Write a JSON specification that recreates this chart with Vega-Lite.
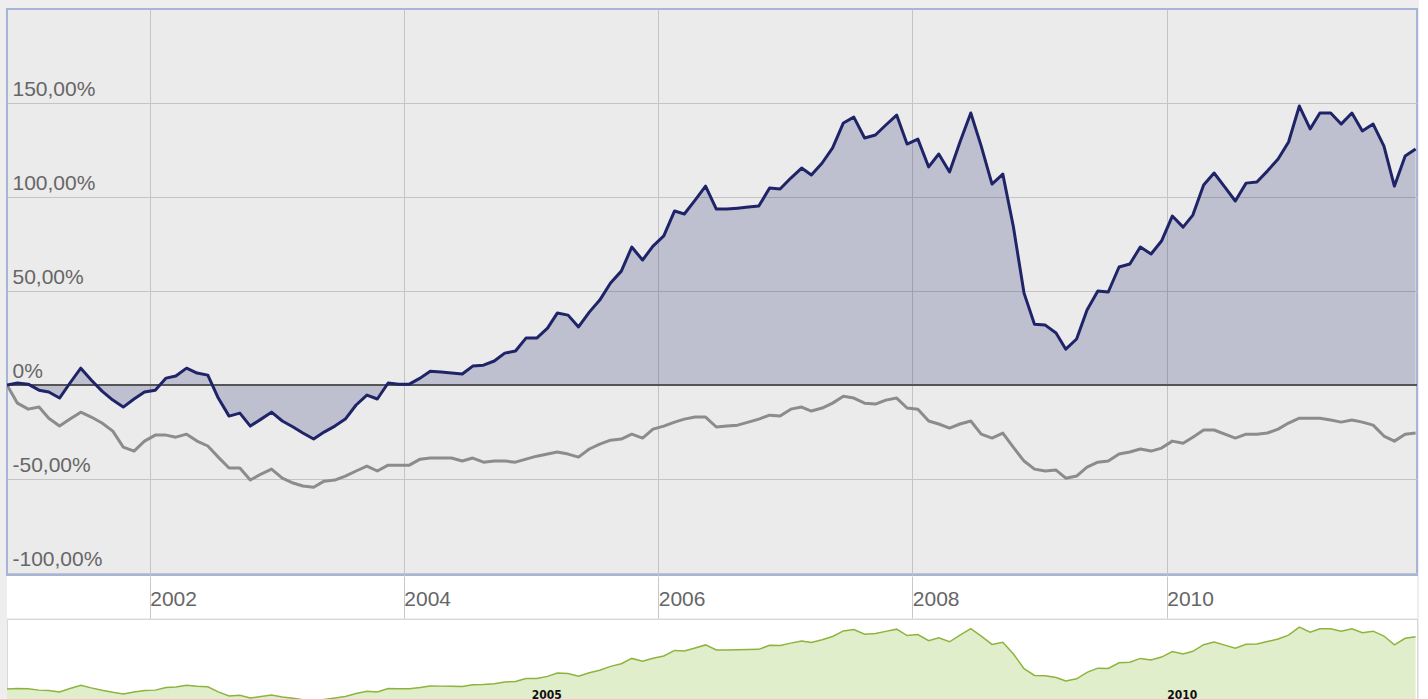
{
  "$schema": "https://vega.github.io/schema/vega-lite/v6.json",
  "background": "#eeeeee",
  "padding": {"left": 5, "top": 8, "right": 0, "bottom": 0},
  "spacing": 0,
  "config": {"concat": {"spacing": 0}},
  "resolve": {"scale": {"x": "independent", "y": "independent"}, "axis": {"x": "independent", "y": "independent"}},
  "data": {"values": [
    {"date": "2000-11-17", "fund": 0, "index": 0},
    {"date": "2000-12-17", "fund": 1.1, "index": -9.6},
    {"date": "2001-01-17", "fund": 0.5, "index": -12.8},
    {"date": "2001-02-17", "fund": -2.7, "index": -11.7},
    {"date": "2001-03-17", "fund": -3.7, "index": -17.6},
    {"date": "2001-04-17", "fund": -6.9, "index": -21.8},
    {"date": "2001-05-17", "fund": 1.1, "index": -18.1},
    {"date": "2001-06-17", "fund": 9.0, "index": -14.4},
    {"date": "2001-07-17", "fund": 2.7, "index": -17.0},
    {"date": "2001-08-17", "fund": -3.2, "index": -20.2},
    {"date": "2001-09-17", "fund": -8.0, "index": -24.5},
    {"date": "2001-10-17", "fund": -11.7, "index": -33.0},
    {"date": "2001-11-17", "fund": -7.4, "index": -35.1},
    {"date": "2001-12-17", "fund": -3.7, "index": -29.8},
    {"date": "2002-01-17", "fund": -2.7, "index": -26.6},
    {"date": "2002-02-17", "fund": 3.7, "index": -26.6},
    {"date": "2002-03-17", "fund": 4.8, "index": -27.7},
    {"date": "2002-04-17", "fund": 9.0, "index": -26.1},
    {"date": "2002-05-17", "fund": 6.4, "index": -29.8},
    {"date": "2002-06-17", "fund": 5.3, "index": -32.4},
    {"date": "2002-07-17", "fund": -6.9, "index": -38.3},
    {"date": "2002-08-17", "fund": -16.5, "index": -44.1},
    {"date": "2002-09-17", "fund": -14.9, "index": -44.1},
    {"date": "2002-10-17", "fund": -21.8, "index": -50.5},
    {"date": "2002-11-17", "fund": -18.1, "index": -47.3},
    {"date": "2002-12-17", "fund": -14.4, "index": -44.7},
    {"date": "2003-01-17", "fund": -19.1, "index": -49.5},
    {"date": "2003-02-17", "fund": -22.3, "index": -52.1},
    {"date": "2003-03-17", "fund": -25.5, "index": -53.7},
    {"date": "2003-04-17", "fund": -28.7, "index": -54.3},
    {"date": "2003-05-17", "fund": -25.0, "index": -51.1},
    {"date": "2003-06-17", "fund": -21.8, "index": -50.5},
    {"date": "2003-07-17", "fund": -18.1, "index": -48.4},
    {"date": "2003-08-17", "fund": -10.6, "index": -45.7},
    {"date": "2003-09-17", "fund": -5.3, "index": -43.1},
    {"date": "2003-10-17", "fund": -7.4, "index": -45.7},
    {"date": "2003-11-17", "fund": 1.1, "index": -42.6},
    {"date": "2003-12-17", "fund": 0.5, "index": -42.6},
    {"date": "2004-01-17", "fund": 0.5, "index": -42.6},
    {"date": "2004-02-17", "fund": 3.7, "index": -39.4},
    {"date": "2004-03-17", "fund": 7.4, "index": -38.8},
    {"date": "2004-04-17", "fund": 6.9, "index": -38.8},
    {"date": "2004-05-17", "fund": 6.4, "index": -38.8},
    {"date": "2004-06-17", "fund": 5.9, "index": -40.4},
    {"date": "2004-07-17", "fund": 10.1, "index": -38.8},
    {"date": "2004-08-17", "fund": 10.6, "index": -41.0},
    {"date": "2004-09-17", "fund": 12.8, "index": -40.4},
    {"date": "2004-10-17", "fund": 17.0, "index": -40.4},
    {"date": "2004-11-17", "fund": 18.1, "index": -41.0},
    {"date": "2004-12-17", "fund": 25.0, "index": -39.4},
    {"date": "2005-01-17", "fund": 25.0, "index": -37.8},
    {"date": "2005-02-17", "fund": 30.3, "index": -36.7},
    {"date": "2005-03-17", "fund": 38.3, "index": -35.6},
    {"date": "2005-04-17", "fund": 37.2, "index": -36.7},
    {"date": "2005-05-17", "fund": 30.9, "index": -38.3},
    {"date": "2005-06-17", "fund": 38.8, "index": -34.0},
    {"date": "2005-07-17", "fund": 45.2, "index": -31.4},
    {"date": "2005-08-17", "fund": 54.3, "index": -29.3},
    {"date": "2005-09-17", "fund": 60.6, "index": -28.7},
    {"date": "2005-10-17", "fund": 73.4, "index": -26.1},
    {"date": "2005-11-17", "fund": 66.5, "index": -28.2},
    {"date": "2005-12-17", "fund": 73.9, "index": -23.4},
    {"date": "2006-01-17", "fund": 79.3, "index": -21.8},
    {"date": "2006-02-17", "fund": 92.6, "index": -19.7},
    {"date": "2006-03-17", "fund": 91.0, "index": -18.1},
    {"date": "2006-04-17", "fund": 98.4, "index": -17.0},
    {"date": "2006-05-17", "fund": 105.8, "index": -17.0},
    {"date": "2006-06-17", "fund": 93.6, "index": -22.3},
    {"date": "2006-07-17", "fund": 93.6, "index": -21.8},
    {"date": "2006-08-17", "fund": 94.1, "index": -21.3},
    {"date": "2006-09-17", "fund": 94.7, "index": -19.7},
    {"date": "2006-10-17", "fund": 95.2, "index": -18.1},
    {"date": "2006-11-17", "fund": 104.8, "index": -16.0},
    {"date": "2006-12-17", "fund": 104.3, "index": -16.5},
    {"date": "2007-01-17", "fund": 110.1, "index": -12.8},
    {"date": "2007-02-17", "fund": 115.4, "index": -11.7},
    {"date": "2007-03-17", "fund": 111.7, "index": -13.8},
    {"date": "2007-04-17", "fund": 118.1, "index": -12.2},
    {"date": "2007-05-17", "fund": 126.1, "index": -9.6},
    {"date": "2007-06-17", "fund": 139.4, "index": -5.9},
    {"date": "2007-07-17", "fund": 142.5, "index": -6.9},
    {"date": "2007-08-17", "fund": 131.4, "index": -9.6},
    {"date": "2007-09-17", "fund": 133.0, "index": -10.1},
    {"date": "2007-10-17", "fund": 138.3, "index": -8.0},
    {"date": "2007-11-17", "fund": 143.6, "index": -6.9},
    {"date": "2007-12-17", "fund": 128.2, "index": -12.2},
    {"date": "2008-01-17", "fund": 130.8, "index": -12.8},
    {"date": "2008-02-17", "fund": 116.0, "index": -19.1},
    {"date": "2008-03-17", "fund": 122.9, "index": -20.7},
    {"date": "2008-04-17", "fund": 113.3, "index": -22.9},
    {"date": "2008-05-17", "fund": 129.3, "index": -20.7},
    {"date": "2008-06-17", "fund": 144.7, "index": -19.1},
    {"date": "2008-07-17", "fund": 127.1, "index": -26.1},
    {"date": "2008-08-17", "fund": 106.9, "index": -28.2},
    {"date": "2008-09-17", "fund": 112.2, "index": -25.5},
    {"date": "2008-10-17", "fund": 84.6, "index": -33.0},
    {"date": "2008-11-17", "fund": 48.9, "index": -40.4},
    {"date": "2008-12-17", "fund": 32.4, "index": -44.7},
    {"date": "2009-01-17", "fund": 31.9, "index": -45.7},
    {"date": "2009-02-17", "fund": 27.7, "index": -45.2},
    {"date": "2009-03-17", "fund": 19.1, "index": -49.5},
    {"date": "2009-04-17", "fund": 24.5, "index": -48.4},
    {"date": "2009-05-17", "fund": 39.9, "index": -43.6},
    {"date": "2009-06-17", "fund": 50.0, "index": -41.0},
    {"date": "2009-07-17", "fund": 49.5, "index": -40.4},
    {"date": "2009-08-17", "fund": 62.8, "index": -36.7},
    {"date": "2009-09-17", "fund": 64.4, "index": -35.6},
    {"date": "2009-10-17", "fund": 73.4, "index": -34.0},
    {"date": "2009-11-17", "fund": 69.7, "index": -35.1},
    {"date": "2009-12-17", "fund": 76.6, "index": -33.5},
    {"date": "2010-01-17", "fund": 89.9, "index": -29.8},
    {"date": "2010-02-17", "fund": 84.0, "index": -30.9},
    {"date": "2010-03-17", "fund": 90.4, "index": -27.7},
    {"date": "2010-04-17", "fund": 106.4, "index": -23.9},
    {"date": "2010-05-17", "fund": 112.8, "index": -23.9},
    {"date": "2010-06-17", "fund": 105.3, "index": -26.1},
    {"date": "2010-07-17", "fund": 97.9, "index": -28.2},
    {"date": "2010-08-17", "fund": 107.4, "index": -26.1},
    {"date": "2010-09-17", "fund": 108.0, "index": -26.1},
    {"date": "2010-10-17", "fund": 113.8, "index": -25.5},
    {"date": "2010-11-17", "fund": 120.2, "index": -23.4},
    {"date": "2010-12-17", "fund": 129.3, "index": -20.2},
    {"date": "2011-01-17", "fund": 148.4, "index": -17.6},
    {"date": "2011-02-17", "fund": 136.2, "index": -17.6},
    {"date": "2011-03-17", "fund": 144.7, "index": -17.6},
    {"date": "2011-04-17", "fund": 144.7, "index": -18.6},
    {"date": "2011-05-17", "fund": 138.8, "index": -19.7},
    {"date": "2011-06-17", "fund": 144.7, "index": -18.6},
    {"date": "2011-07-17", "fund": 135.1, "index": -19.7},
    {"date": "2011-08-17", "fund": 138.8, "index": -21.3},
    {"date": "2011-09-17", "fund": 127.1, "index": -27.1},
    {"date": "2011-10-17", "fund": 105.8, "index": -29.8},
    {"date": "2011-11-17", "fund": 121.8, "index": -26.1},
    {"date": "2011-12-17", "fund": 125.5, "index": -25.5}
  ]},
  "vconcat": [
    {
      "width": 1410,
      "height": 566,
      "view": {"fill": "#ebebeb", "stroke": "#a6b5d7", "strokeWidth": 2},
      "layer": [
        {
          "mark": {"type": "area", "color": "#1e2266", "opacity": 0.21, "clip": true},
          "encoding": {
            "x": {"field": "date", "type": "temporal", "title": null,
              "scale": {"type": "utc", "domain": [{"year": 2000, "month": 11, "date": 17, "utc": true}, {"year": 2011, "month": 12, "date": 21, "utc": true}]},
              "axis": {"values": [{"year": 2002, "utc": true}, {"year": 2004, "utc": true}, {"year": 2006, "utc": true}, {"year": 2008, "utc": true}, {"year": 2010, "utc": true}],
                "grid": true, "gridColor": "#c4c4c4", "gridWidth": 1, "labels": false, "ticks": false, "domain": false, "title": null}},
            "y": {"field": "fund", "type": "quantitative", "title": null,
              "scale": {"domain": [-101, 200], "nice": false, "zero": false},
              "axis": {"values": [-100, -50, 0, 50, 100, 150], "grid": true, "gridColor": "#c4c4c4", "gridWidth": 1,
                "domain": false, "ticks": false, "labelAlign": "left", "labelPadding": -5, "labelBaseline": "bottom", "labelOffset": -4,
                "labelFont": "Liberation Sans", "labelFontSize": 21, "labelColor": "#666666", "labelOverlap": false, "labelBound": false, "labelFlush": false,
                "labelExpr": "datum.value == 0 ? '0%' : (datum.value < 0 ? '-' : '') + replace(format(abs(datum.value), '.2f'), '.', ',') + '%'",
                "title": null}},
            "y2": {"datum": 0}
          }
        },
        {
          "mark": {"type": "rule", "color": "#555555", "strokeWidth": 2},
          "encoding": {"y": {"datum": 0}}
        },
        {
          "mark": {"type": "line", "color": "#8c8c8c", "strokeWidth": 3, "strokeJoin": "round", "clip": true},
          "encoding": {
            "x": {"field": "date", "type": "temporal", "title": null},
            "y": {"field": "index", "type": "quantitative", "title": null}
          }
        },
        {
          "mark": {"type": "line", "color": "#1f2468", "strokeWidth": 3, "strokeJoin": "round", "clip": true},
          "encoding": {
            "x": {"field": "date", "type": "temporal", "title": null},
            "y": {"field": "fund", "type": "quantitative", "title": null}
          }
        }
      ]
    },
    {
      "width": 1410,
      "height": 42,
      "view": {"fill": "#ffffff", "stroke": null},
      "mark": {"type": "rule", "opacity": 0, "clip": true},
      "encoding": {
        "x": {"field": "date", "type": "temporal", "title": null,
          "scale": {"type": "utc", "domain": [{"year": 2000, "month": 11, "date": 17, "utc": true}, {"year": 2011, "month": 12, "date": 21, "utc": true}]},
          "axis": {"orient": "top", "values": [{"year": 2002, "utc": true}, {"year": 2004, "utc": true}, {"year": 2006, "utc": true}, {"year": 2008, "utc": true}, {"year": 2010, "utc": true}],
            "format": "%Y", "grid": true, "gridColor": "#c8c8c8", "gridWidth": 1, "domain": false, "ticks": false,
            "labelAlign": "left", "labelBaseline": "middle", "labelPadding": -23, "labelDx": 5,
            "labelFont": "Liberation Sans", "labelFontSize": 21, "labelColor": "#666666", "labelFlush": false, "labelOverlap": false, "labelBound": false, "title": null}}
      }
    },
    {
      "width": 1410,
      "height": 100,
      "view": {"fill": "#ffffff", "stroke": "#d8d8d8", "strokeWidth": 1},
      "layer": [
        {
          "mark": {"type": "area", "color": "#e0eecc", "clip": true},
          "encoding": {
            "x": {"field": "date", "type": "temporal", "title": null,
              "scale": {"type": "utc", "domain": [{"year": 2000, "month": 11, "date": 17, "utc": true}, {"year": 2011, "month": 12, "date": 21, "utc": true}]},
              "axis": {"orient": "bottom", "values": [{"year": 2005, "utc": true}, {"year": 2010, "utc": true}],
                "format": "%Y", "grid": false, "domain": false, "ticks": false, "zindex": 1,
                "labelAlign": "left", "labelBaseline": "middle", "labelPadding": -25, "labelDx": 5,
                "labelFont": "DejaVu Sans Condensed", "labelFontSize": 12, "labelFontWeight": "bold", "labelColor": "#111111", "labelFlush": false, "labelOverlap": false, "labelBound": false, "title": null}},
            "y": {"field": "fund", "type": "quantitative", "title": null, "scale": {"domain": [-72, 168], "nice": false, "zero": false}, "axis": null},
            "y2": {"datum": -72}
          }
        },
        {
          "mark": {"type": "line", "color": "#8db43c", "strokeWidth": 1.5, "clip": true},
          "encoding": {
            "x": {"field": "date", "type": "temporal", "title": null},
            "y": {"field": "fund", "type": "quantitative", "title": null}
          }
        }
      ]
    }
  ]
}
